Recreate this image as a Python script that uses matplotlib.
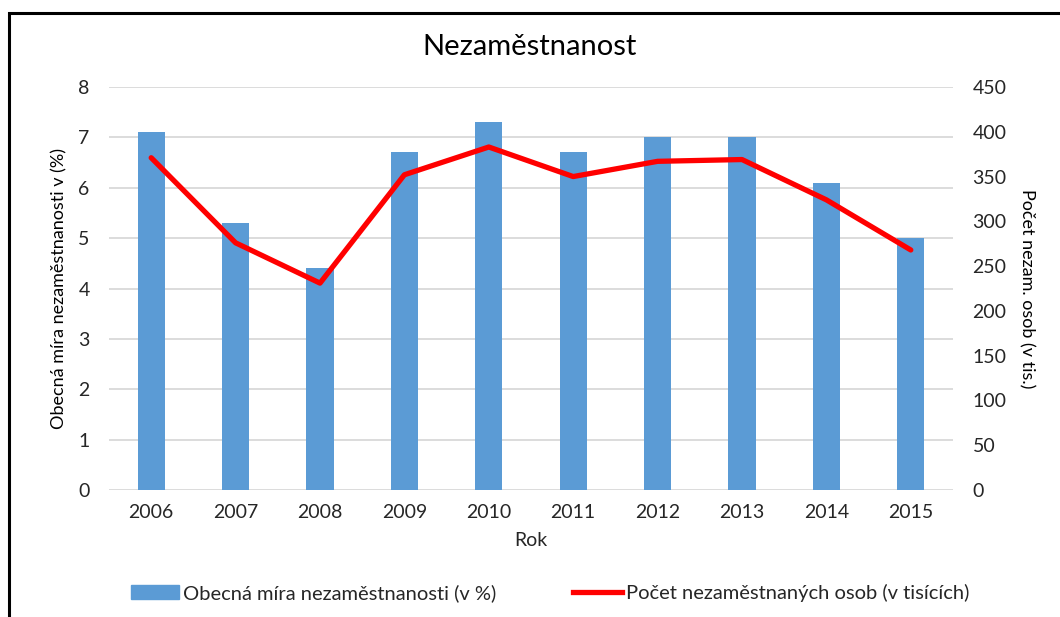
import matplotlib
matplotlib.use('Agg')
import matplotlib.pyplot as plt
from matplotlib.patches import Rectangle
from matplotlib.lines import Line2D
import numpy as np

years = ['2006', '2007', '2008', '2009', '2010', '2011', '2012', '2013', '2014', '2015']
rate = [7.1, 5.3, 4.4, 6.7, 7.3, 6.7, 7.0, 7.0, 6.1, 5.0]
persons = [371, 276, 231, 352, 383, 350, 367, 369, 324, 268]

plt.rcParams['font.family'] = ['Lato', 'DejaVu Sans']
txt = '#262626'

fig = plt.figure(figsize=(10.6, 6.17), dpi=100)
ax = fig.add_axes([109/1060, 1 - 490/617, 844/1060, 403/617])
ax2 = ax.twinx()

x = np.arange(len(years))
ax.bar(x, rate, width=0.32, color='#5B9BD5', zorder=2)
ax2.plot(x, persons, color='#FF0000', lw=3.8, solid_capstyle='round', zorder=3)

ax.set_xlim(-0.5, len(years) - 0.5)
ax.set_ylim(0, 8)
ax2.set_ylim(0, 450)
ax.set_yticks(range(0, 9))
ax2.set_yticks(range(0, 451, 50))
ax.set_xticks(x)
ax.set_xticklabels(years)
ax.yaxis.grid(True, color='#d9d9d9', lw=1.3)
ax.set_axisbelow(True)

for a in (ax, ax2):
    for s in a.spines.values():
        s.set_visible(False)
ax.tick_params(axis='y', length=0, pad=14, labelsize=14, labelcolor=txt)
ax.tick_params(axis='x', length=0, pad=10, labelsize=14, labelcolor=txt)
ax2.tick_params(axis='y', length=0, pad=14, labelsize=14, labelcolor=txt)

ax.set_xlabel('Rok', fontsize=14, color=txt, labelpad=8)
ax.set_ylabel('Obecná míra nezaměstnanosti v (%)', fontsize=13, color='black', labelpad=8)
ax2.set_ylabel('Počet nezam. osob (v tis.)', fontsize=13, color='black', rotation=270, labelpad=20)
fig.text(0.5, 1 - 47/617, 'Nezaměstnanost', ha='center', va='center', fontsize=21, color='black')

handles = [Rectangle((0, 0), 1, 1, color='#5B9BD5'),
           Line2D([0], [0], color='#FF0000', lw=3.8)]
labels = ['Obecná míra nezaměstnanosti (v %)', 'Počet nezaměstnaných osob (v tisících)']
fig.legend(handles, labels, loc='center', bbox_to_anchor=(550/1060, 1 - 593/617), ncol=2,
           frameon=False, fontsize=14.5, columnspacing=3.8, handlelength=2.4, handletextpad=0.2,
           labelcolor=txt)

fig.add_artist(Rectangle((9/1060, -0.2), 1.2, 1.2 - 13/617, transform=fig.transFigure,
                         fill=False, ec='black', lw=2.2))

fig.savefig('out.png', dpi=100)
